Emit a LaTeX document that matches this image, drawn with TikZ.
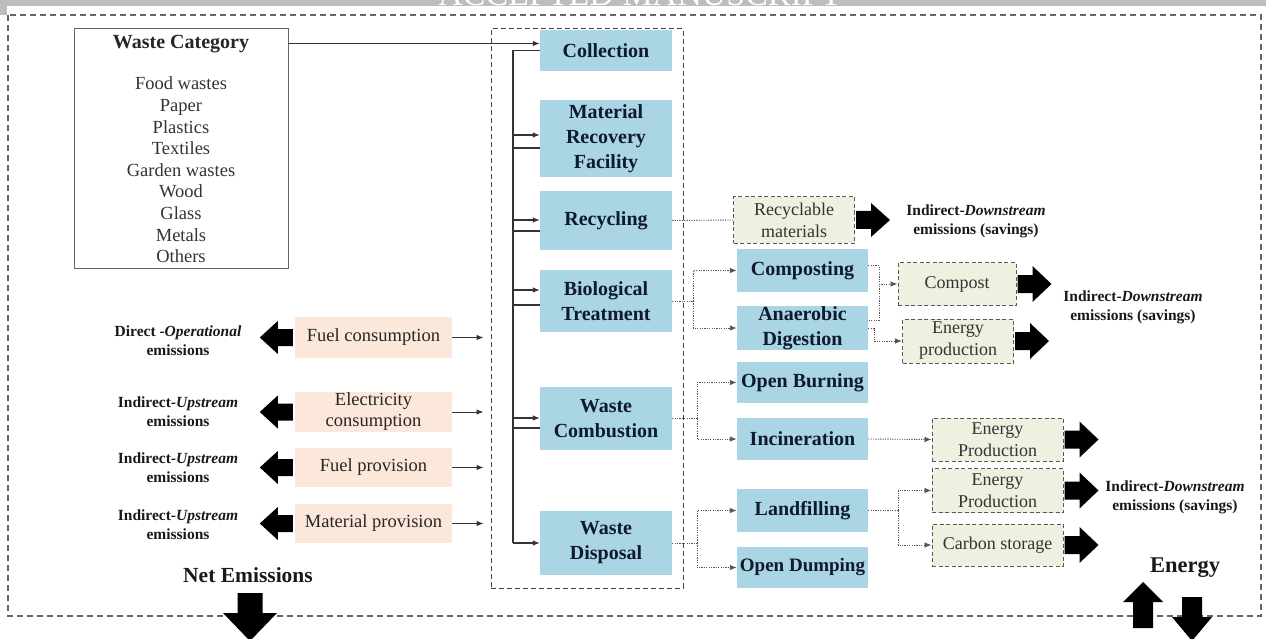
\documentclass[tikz,border=0pt]{standalone}
\usepackage{fontspec}
\setmainfont{Liberation Serif}
\usetikzlibrary{arrows.meta,calc}
\definecolor{boxblue}{HTML}{A9D5E5}
\definecolor{boxtext}{HTML}{0F1A2A}
\definecolor{peach}{HTML}{FCE8DA}
\definecolor{palegreen}{HTML}{EDF1DF}
\definecolor{linegrey}{HTML}{333333}
\definecolor{dotgrey}{HTML}{555555}
\definecolor{framegrey}{HTML}{666666}
\definecolor{bannergrey}{HTML}{BDBDBD}
% block arrow: tail point, angle, length, head length, half head width, half shaft width
\newcommand{\blkarrow}[6]{%
  \begin{scope}[shift={#1},rotate=#2]
    \fill[black] (0,-#6) -- (#3-#4,-#6) -- (#3-#4,-#5) -- (#3,0) -- (#3-#4,#5) -- (#3-#4,#6) -- (0,#6) -- cycle;
  \end{scope}}
\begin{document}
\begin{tikzpicture}[x=1pt,y=-1pt,
  arrowtip/.style={-{Latex[length=7pt,width=5.5pt]}},
  bluebox/.style={fill=boxblue, text=boxtext, font=\fontsize{20}{25}\selectfont\bfseries, align=center, inner sep=0pt, minimum width=132pt},
  peachbox/.style={fill=peach, text=black!85, font=\fontsize{18.5}{21}\selectfont, align=center, inner sep=0pt, minimum width=157pt},
  greenbox/.style={fill=palegreen, draw=black!65, dash pattern=on 4pt off 2.5pt, line width=1pt, font=\fontsize{18}{22}\selectfont, align=center, inner sep=0pt, text=black!80},
  emis/.style={font=\fontsize{15.5}{19}\selectfont\bfseries, align=center, text=black!90},
  busline/.style={draw=linegrey, line width=1.1pt},
  dotline/.style={draw=dotgrey, line width=0.9pt, dash pattern=on 1.2pt off 1.2pt},
  bigtitle/.style={font=\fontsize{21.5}{25}\selectfont\bfseries, text=black!90}
]
\useasboundingbox (0,0) rectangle (1266,639);
\clip (0,0) rectangle (1266,639);
\fill[white] (0,0) rectangle (1266,639);
% banner
\fill[bannergrey] (0,0) rectangle (1266,6);
\fill[bannergrey] (0,0) rectangle (7,15);
\node[anchor=base, text=white, font=\fontsize{34}{34}\selectfont, inner sep=0pt] (acc) at (640,5.5) {ACCEPTED MANUSCRIPT};
% outer frame
\draw[draw=framegrey, dash pattern=on 6pt off 4pt, line width=1.1pt] (8,15) rectangle (1261,616);

% waste category
\node[draw=framegrey, line width=1pt, minimum width=214pt, minimum height=239pt, inner sep=0pt] (wc) at (181,148.5) {};
\node[font=\fontsize{20}{22}\selectfont\bfseries, text=black!85] (wct) at (181,44) {Waste Category};
\node[font=\fontsize{18.5}{21.6}\selectfont, align=center, text=black!80] (wcl) at (181,170) {Food wastes\\Paper\\Plastics\\Textiles\\Garden wastes\\Wood\\Glass\\Metals\\Others};

% middle dashed box
\node[draw=black!75, dash pattern=on 5pt off 3pt, line width=1pt, minimum width=192pt, minimum height=559pt, inner sep=0pt] (mid) at (587,308.5) {};

% blue boxes column 1
\node[bluebox, minimum height=41pt] (coll) at (606,50.5) {Collection};
\node[bluebox, minimum height=77pt] (mrf) at (606,138.5) {Material\\Recovery\\Facility};
\node[bluebox, minimum height=59pt] (recy) at (606,220.5) {Recycling};
\node[bluebox, minimum height=62pt] (bio) at (606,301) {Biological\\Treatment};
\node[bluebox, minimum height=63pt] (comb) at (606,418.5) {Waste\\Combustion};
\node[bluebox, minimum height=64pt] (disp) at (606,543) {Waste\\Disposal};

% blue boxes column 2
\node[bluebox, minimum width=131pt, minimum height=43pt] (comp) at (802.5,270.5) {Composting};
\node[bluebox, minimum width=131pt, minimum height=44pt] (anae) at (802.5,328) {Anaerobic\\Digestion};
\node[bluebox, minimum width=131pt, minimum height=41pt] (burn) at (802.5,382.5) {Open Burning};
\node[bluebox, minimum width=131pt, minimum height=42pt] (inci) at (802.5,439) {Incineration};
\node[bluebox, minimum width=131pt, minimum height=43pt] (land) at (802.5,510.5) {Landfilling};
\node[bluebox, minimum width=131pt, minimum height=41pt, font=\fontsize{19}{25}\selectfont\bfseries] (dump) at (802.5,567.5) {Open Dumping};

% peach boxes
\node[peachbox, minimum height=41pt] (fuelc) at (373.5,337.5) {Fuel consumption};
\node[peachbox, minimum height=40pt] (elec) at (373.5,412) {Electricity\\consumption};
\node[peachbox, minimum height=39pt] (fuelp) at (373.5,467.5) {Fuel provision};
\node[peachbox, minimum height=39pt] (matp) at (373.5,523.5) {Material provision};

% green boxes
\node[greenbox, minimum width=121pt, minimum height=46pt] (recm) at (794,220) {Recyclable\\materials};
\node[greenbox, minimum width=118pt, minimum height=43pt] (compost) at (957,284) {Compost};
\node[greenbox, minimum width=111pt, minimum height=44pt] (enprod1) at (958,341) {Energy\\production};
\node[greenbox, minimum width=131pt, minimum height=43pt] (enprod2) at (997.5,439.5) {Energy\\Production};
\node[greenbox, minimum width=131pt, minimum height=44pt] (enprod3) at (997.5,490.5) {Energy\\Production};
\node[greenbox, minimum width=131pt, minimum height=42pt] (carbon) at (997.5,545) {Carbon storage};

% emission labels
\node[emis] (e1) at (178,340.5) {Direct -\textit{Operational}\\emissions};
\node[emis] (e2) at (178,412) {Indirect-\textit{Upstream}\\emissions};
\node[emis] (e3) at (178,468) {Indirect-\textit{Upstream}\\emissions};
\node[emis] (e4) at (178,525) {Indirect-\textit{Upstream}\\emissions};
\node[emis] (d1) at (976,221) {Indirect-\textit{Downstream}\\emissions (savings)};
\node[emis] (d2) at (1133,307) {Indirect-\textit{Downstream}\\emissions (savings)};
\node[emis] (d3) at (1175,497) {Indirect-\textit{Downstream}\\emissions (savings)};
\node[bigtitle] (net) at (248,575) {Net Emissions};
\node[bigtitle, font=\fontsize{22.5}{25}\selectfont\bfseries] (energy) at (1185,568) {Energy};

% block arrows
\blkarrow{([xshift=-2pt]fuelc.west)}{180}{33}{18}{16.5}{8.5}
\blkarrow{([xshift=-2pt]elec.west)}{180}{33}{18}{16.5}{8.5}
\blkarrow{([xshift=-2pt]fuelp.west)}{180}{33}{18}{16.5}{8.5}
\blkarrow{([xshift=-2pt]matp.west)}{180}{33}{18}{16.5}{8.5}
\blkarrow{([xshift=1pt]recm.east)}{0}{34}{19}{17}{9}
\blkarrow{([xshift=1pt]compost.east)}{0}{34}{19}{18}{9}
\blkarrow{([xshift=1pt]enprod1.east)}{0}{34}{19}{18}{9}
\blkarrow{([xshift=1pt]enprod2.east)}{0}{34}{19}{18}{9}
\blkarrow{([xshift=1pt]enprod3.east)}{0}{34}{19}{18}{9}
\blkarrow{([xshift=1pt]carbon.east)}{0}{34}{19}{18}{9}
\blkarrow{(250,593)}{-90}{48}{28}{27}{12.5}
\blkarrow{(1143,628)}{90}{46}{20}{20}{10}
\blkarrow{(1192,597)}{-90}{44}{24}{20}{10}

% waste category to collection
\coordinate (colla) at ([yshift=7pt]coll.west);
\draw[busline,arrowtip] (wc.east |- colla) -- (colla);

% bus
\coordinate (busx) at (513,0);
\draw[busline] (coll.west) -- (busx |- coll.west) -- (busx |- disp.west);
\draw[busline,arrowtip] (busx |- disp.west) -- (disp.west);
\coordinate (mrfa) at ([yshift=3.5pt]mrf.west);
\coordinate (mrfb) at ([yshift=-9.5pt]mrf.west);
\coordinate (recya) at ([yshift=0.5pt]recy.west);
\coordinate (recyb) at ([yshift=-10.5pt]recy.west);
\coordinate (bioa) at ([yshift=11pt]bio.west);
\coordinate (biob) at ([yshift=-4pt]bio.west);
\coordinate (comba) at ([yshift=0.5pt]comb.west);
\coordinate (combb) at ([yshift=-9.5pt]comb.west);
\foreach \a/\b in {mrfa/mrfb, recya/recyb, bioa/biob, comba/combb}{
  \draw[busline,arrowtip] (busx |- \a) -- (\a);
  \draw[busline] (\b) -- (busx |- \b);
}

% peach arrows into the middle box
\foreach \p in {fuelc, elec, fuelp, matp}{
  \draw[draw=linegrey, line width=1pt, arrowtip, shorten >=7pt] (\p.east) -- (\p.east -| mid.west);
}

% dotted connectors
\draw[dotline] (recy.east) -- (recm.west);

\coordinate (j1) at (693,0);
\draw[dotline] (bio.east) -- (j1 |- bio.east);
\draw[dotline,arrowtip] (j1 |- bio.east) |- (comp.west);
\draw[dotline,arrowtip] (j1 |- bio.east) |- (anae.west);

\coordinate (j2) at (697,0);
\draw[dotline] (comb.east) -- (j2 |- comb.east);
\draw[dotline,arrowtip] (j2 |- comb.east) |- (burn.west);
\draw[dotline,arrowtip] (j2 |- comb.east) |- (inci.west);

\draw[dotline] (disp.east) -- (j2 |- disp.east);
\draw[dotline,arrowtip] (j2 |- disp.east) |- (land.west);
\draw[dotline,arrowtip] (j2 |- disp.east) |- (dump.west);

\draw[dotline,arrowtip] (inci.east) -- (enprod2.west);

\coordinate (j4) at (898,0);
\draw[dotline] (land.east) -- (j4 |- land.east);
\draw[dotline,arrowtip] (j4 |- land.east) |- (enprod3.west);
\draw[dotline,arrowtip] (j4 |- land.east) |- (carbon.west);

\coordinate (j5) at (879,0);
\coordinate (compo) at ([yshift=5pt]comp.east);
\coordinate (anaeu) at ([yshift=8pt]anae.east);
\draw[dotline] (compo) -- (j5 |- compo) -- (j5 |- anaeu) -- (anaeu);
\draw[dotline,arrowtip] (j5 |- compost.west) -- (compost.west);
\coordinate (j6) at (874,0);
\draw[dotline,arrowtip] (anae.east) -- (j6 |- anae.east) -- (j6 |- enprod1.west) -- (enprod1.west);
\end{tikzpicture}
\end{document}
